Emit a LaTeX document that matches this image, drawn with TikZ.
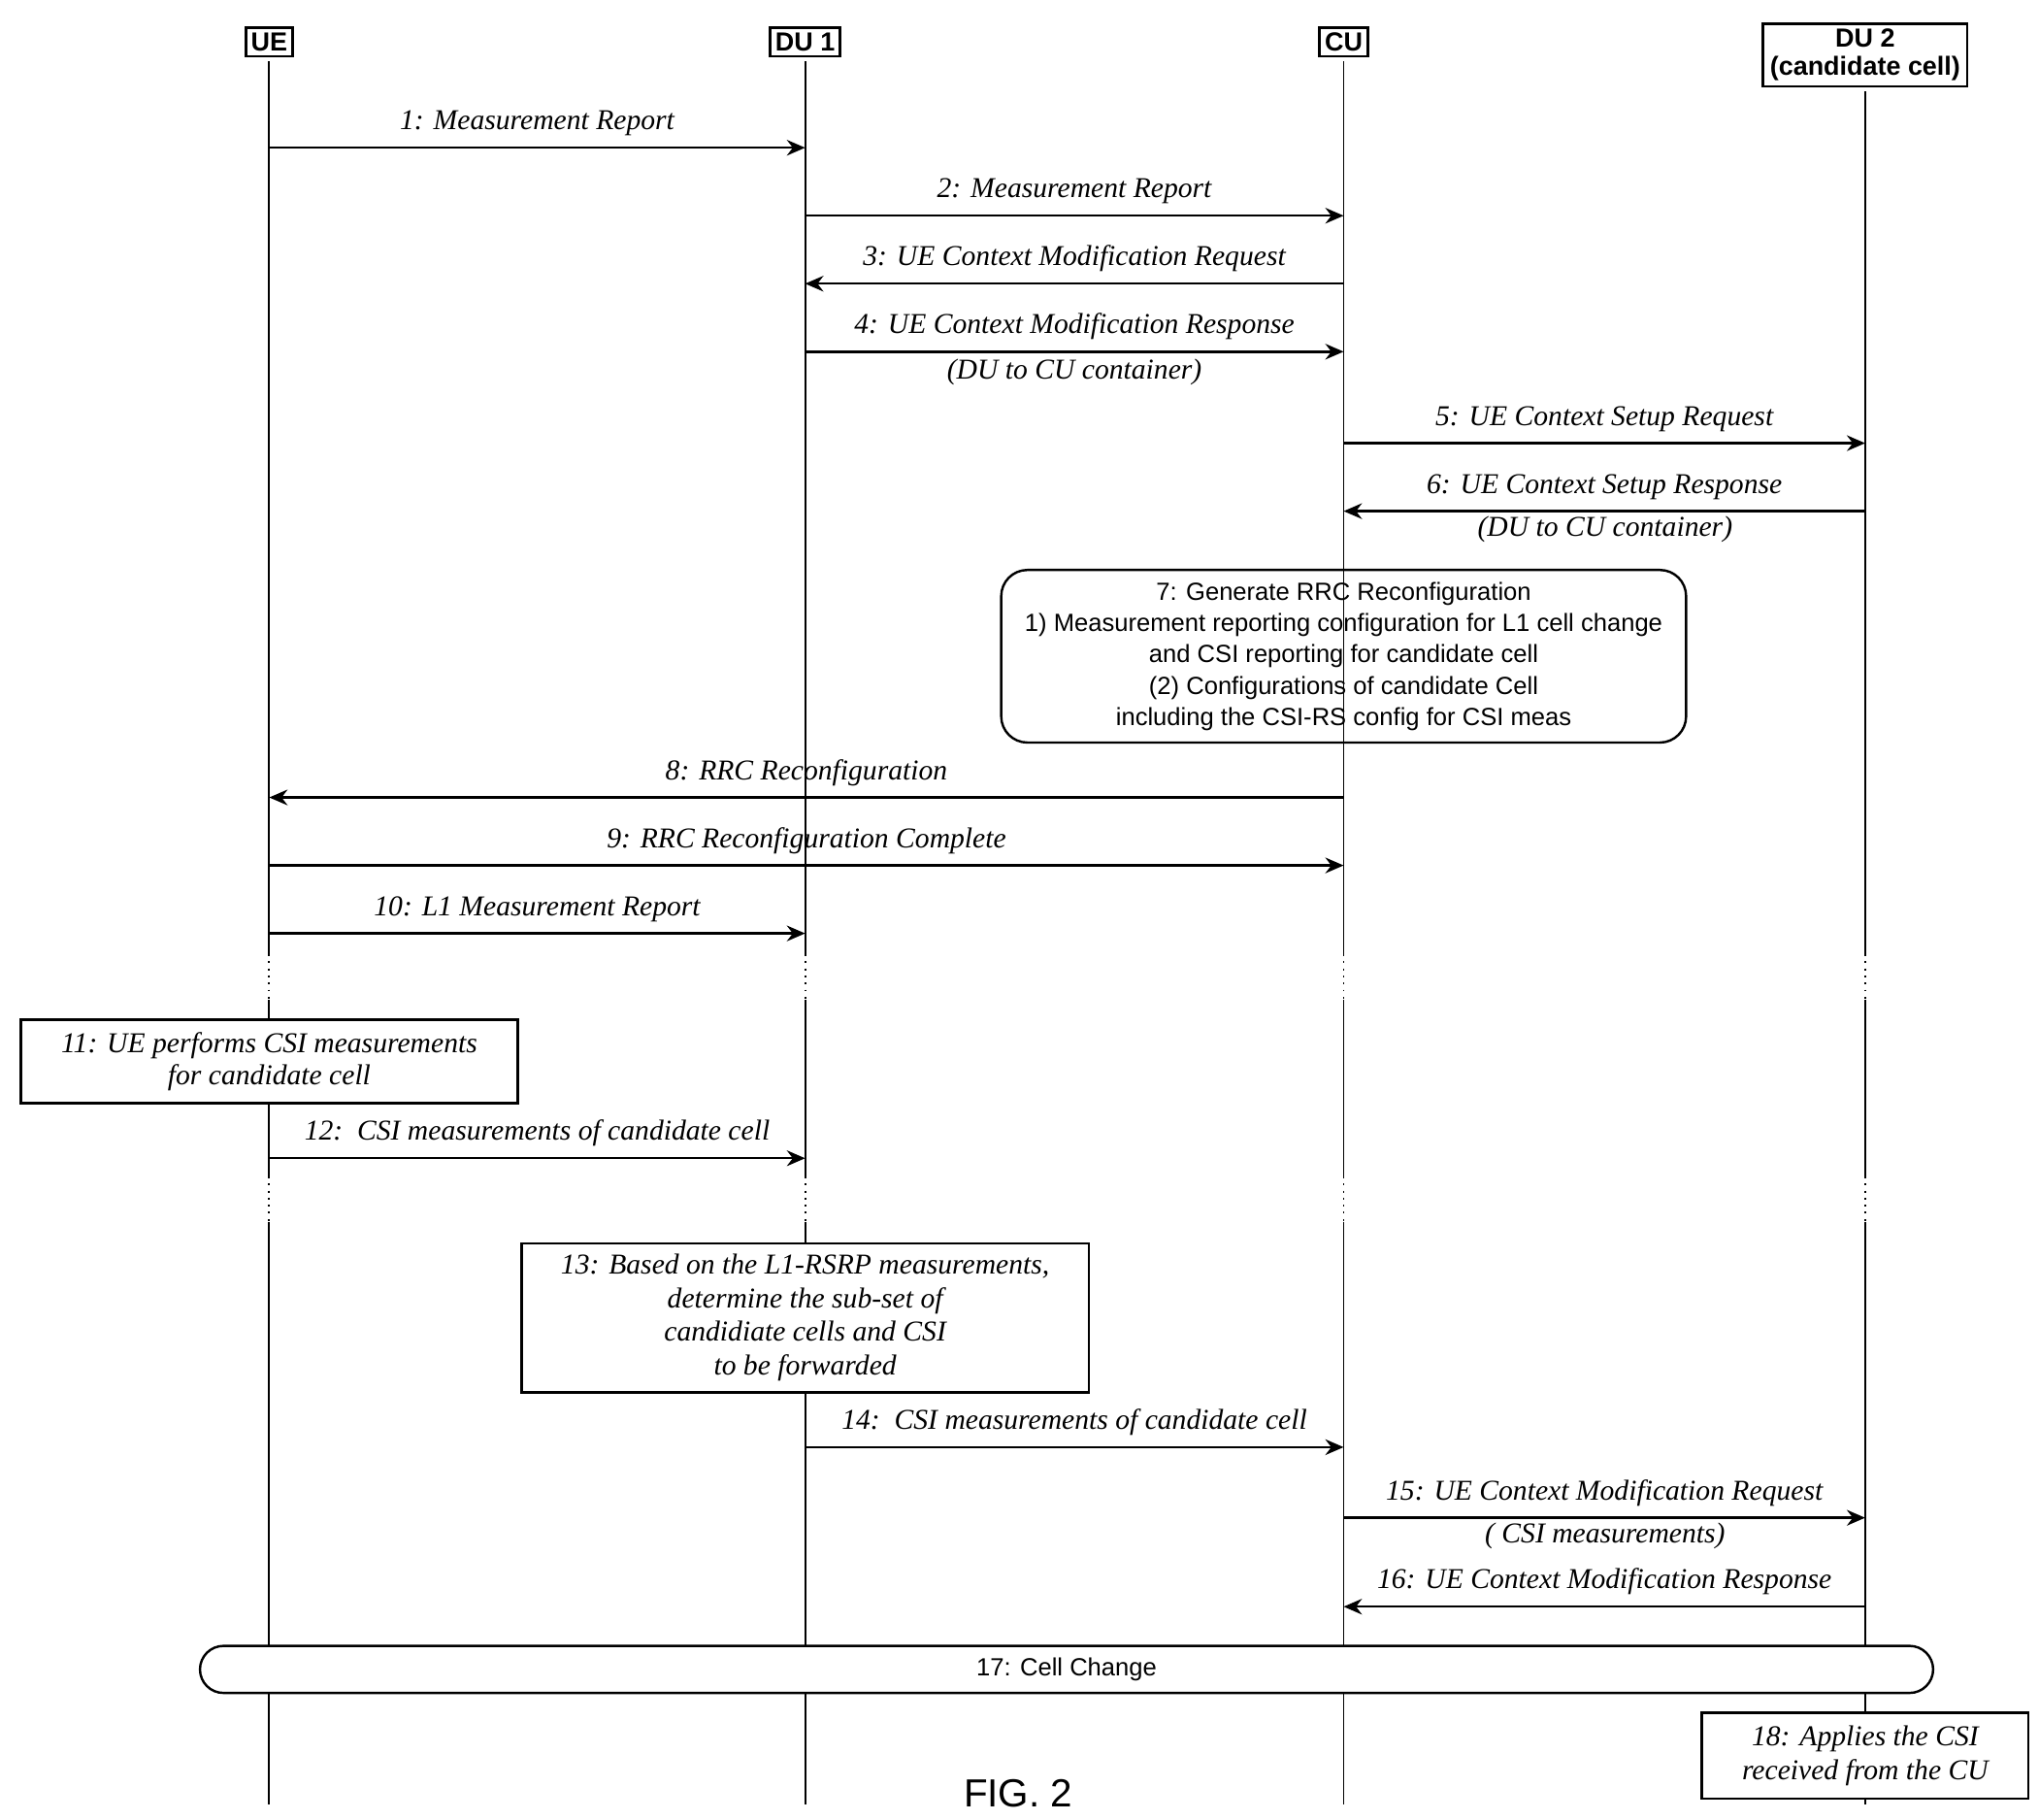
\documentclass[tikz,border=0pt]{standalone}
\usepackage{fontspec}
\setmainfont{Liberation Serif}
\setsansfont{Liberation Sans}
\usetikzlibrary{arrows.meta}
\begin{document}
\begin{tikzpicture}[x=0.5pt,y=-0.5pt,
  msg/.style={-{Stealth[length=7pt,width=6pt]},line width=0.9pt},
  lab/.style={font=\fontsize{11}{12}\selectfont\itshape,inner sep=1pt},
  hdr/.style={draw,line width=1pt,font=\sffamily\bfseries\fontsize{10}{11}\selectfont,inner sep=2pt,align=center},
  life/.style={line width=0.7pt},
  brk/.style={line width=0.7pt,dotted},
  box/.style={draw,line width=0.9pt,align=center}]
\useasboundingbox (0,0) rectangle (1560,1392);
% headers
\node[hdr] (hUE) at (206,32) {UE};
\node[hdr] (hDU1) at (616,32) {DU 1};
\node[hdr] (hCU) at (1028,32) {CU};
\node[hdr,minimum width=78pt] (hDU2) at (1427,42) {DU 2\\(candidate cell)};
% lifelines with breaks
\foreach \n/\x/\t in {UE/206/47,DU1/616/47,CU/1028/47,DU2/1427/70}{
  \coordinate (\n a) at (\x,\t); \coordinate (\n b) at (\x,730);
  \coordinate (\n c) at (\x,765); \coordinate (\n d) at (\x,900);
  \coordinate (\n e) at (\x,935); \coordinate (\n f) at (\x,1380);
  \draw[life] (\n a)--(\n b); \draw[brk] (\n b)--(\n c);
  \draw[life] (\n c)--(\n d); \draw[brk] (\n d)--(\n e);
  \draw[life] (\n e)--(\n f);}
% messages
\newcommand\msgrow[5]{%
  \coordinate (s#5) at (#1,#3); \coordinate (t#5) at (#2,#3);
  \draw[msg] (s#5) -- node[lab,above=3pt]{#4} (t#5);}
\msgrow{206}{616}{113}{1: Measurement Report}{1}
\msgrow{616}{1028}{165}{2: Measurement Report}{2}
\msgrow{1028}{616}{217}{3: UE Context Modification Request}{3}
\msgrow{616}{1028}{269}{4: UE Context Modification Response}{4}
\node[lab] at (822,285) {(DU to CU container)};
\msgrow{1028}{1427}{339}{5: UE Context Setup Request}{5}
\msgrow{1427}{1028}{391}{6: UE Context Setup Response}{6}
\node[lab] at (1228,405) {(DU to CU container)};
\node[box,rounded corners=10pt,minimum width=262pt,minimum height=66pt,font=\sffamily\fontsize{9.5}{12}\selectfont] (b7) at (1028,502)
 {7: Generate RRC Reconfiguration\\1) Measurement reporting configuration for L1 cell change\\and CSI reporting for candidate cell\\(2) Configurations of candidate Cell\\including the CSI-RS config for CSI meas};
\msgrow{1028}{206}{610}{8: RRC Reconfiguration}{8}
\msgrow{206}{1028}{662}{9: RRC Reconfiguration Complete}{9}
\msgrow{206}{616}{714}{10: L1 Measurement Report}{10}
\node[box,minimum width=190pt,minimum height=32pt,font=\fontsize{11}{12.5}\selectfont\itshape,fill=white] (b11) at (206,812) {11: UE performs CSI measurements\\for candidate cell};
\msgrow{206}{616}{886}{12:\ \ CSI measurements of candidate cell}{12}
\node[box,minimum width=217pt,minimum height=57pt,font=\fontsize{11}{12.8}\selectfont\itshape,fill=white] (b13) at (616,1008) {13: Based on the L1-RSRP measurements,\\determine the sub-set of\\candidiate cells and CSI\\to be forwarded};
\msgrow{616}{1028}{1107}{14:\ \ CSI measurements of candidate cell}{14}
\msgrow{1028}{1427}{1161}{15: UE Context Modification Request}{15}
\node[lab] at (1228,1175) {( CSI measurements)};
\msgrow{1427}{1028}{1229}{16: UE Context Modification Response}{16}
\node[box,rounded corners=9pt,minimum width=663pt,minimum height=18pt,fill=white,font=\sffamily\fontsize{9.5}{11}\selectfont] (b17) at (816,1277) {17: Cell Change};
\node[box,minimum width=125pt,minimum height=33pt,fill=white,font=\fontsize{11}{13}\selectfont\itshape] (b18) at (1427,1343) {18: Applies the CSI\\received from the CU};
\node[font=\sffamily\fontsize{15}{16}\selectfont] (fig) at (779,1372) {FIG. 2};
\end{tikzpicture}
\end{document}
